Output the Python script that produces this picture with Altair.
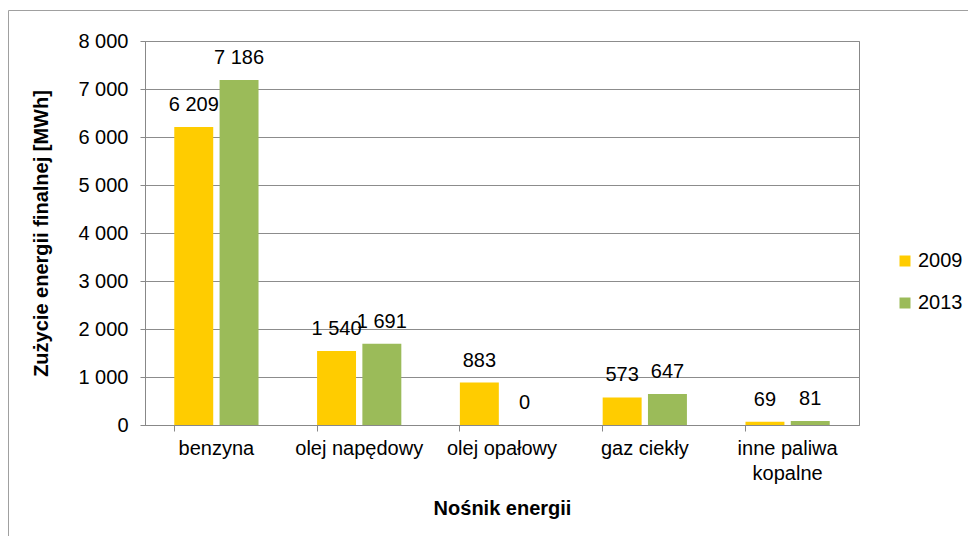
import altair as alt
import pandas as pd

categories = ["benzyna", "olej napędowy", "olej opałowy", "gaz ciekły", "inne paliwa kopalne"]
years = ["2009", "2013"]
values_2009 = [6209, 1540, 883, 573, 69]
values_2013 = [7186, 1691, 0, 647, 81]
y_ticks = [0, 1000, 2000, 3000, 4000, 5000, 6000, 7000, 8000]
colors = ["#FFCC00", "#9BBB59"]

rows = []
for c, a, b in zip(categories, values_2009, values_2013):
    rows.append({"cat": c, "year": "2009", "value": a})
    rows.append({"cat": c, "year": "2013", "value": b})
df = pd.DataFrame(rows)

FONT = "Liberation Sans"

x_enc = alt.X("cat:N", sort=categories, title="Nośnik energii",
              scale=alt.Scale(paddingInner=0.41, paddingOuter=0.205),
              axis=alt.Axis(labelAngle=0, bandPosition=0, labelFontSize=20, labelColor="#000000",
                            labelPadding=7, tickSize=6, tickColor="#888888", domainColor="#888888",
                            titleFontSize=20, titleFontWeight="bold", titleColor="#000000",
                            titlePadding=15, labelLineHeight=25,
                            labelExpr="datum.label == 'inne paliwa kopalne' ? ['inne paliwa', 'kopalne'] : datum.label"))
xo_enc = alt.XOffset("year:N", sort=years, scale=alt.Scale(paddingInner=0.14, paddingOuter=0))
y_enc = alt.Y("value:Q", title="Zużycie energii finalnej [MWh]",
              scale=alt.Scale(domain=[0, 8000], nice=False),
              axis=alt.Axis(values=y_ticks, labelFontSize=20, labelColor="#000000",
                            labelExpr="replace(format(datum.value, ','), ',', ' ')",
                            tickSize=5, tickColor="#888888", domainColor="#888888",
                            gridColor="#8C8C8C", labelPadding=12,
                            titleFontSize=20, titleFontWeight="bold", titleColor="#000000",
                            titlePadding=26))

bars = alt.Chart(df).mark_bar().encode(
    x=x_enc, xOffset=xo_enc, y=y_enc,
    color=alt.Color("year:N", sort=years, scale=alt.Scale(domain=years, range=colors),
                    legend=alt.Legend(title=None, orient="none", legendX=750, legendY=210,
                                      symbolType="square", symbolSize=121, symbolStrokeWidth=0,
                                      labelFontSize=20, labelColor="#000000", labelOffset=3,
                                      rowPadding=22, padding=0)),
)

labels = alt.Chart(df).transform_calculate(
    txt="replace(format(datum.value, ','), ',', ' ')"
).mark_text(baseline="bottom", dy=-12, fontSize=20, color="#000000").encode(
    x=alt.X("cat:N", sort=categories), xOffset=alt.XOffset("year:N", sort=years),
    y="value:Q", text="txt:N",
)

border_left = alt.Chart(pd.DataFrame({"a": [0]})).mark_rule(color="#A0A0A0", strokeWidth=1).encode(
    x=alt.value(-136.5), y=alt.value(-30.5), y2=alt.value(600))
border_top = alt.Chart(pd.DataFrame({"a": [0]})).mark_rule(color="#A0A0A0", strokeWidth=1).encode(
    x=alt.value(-136.5), x2=alt.value(900), y=alt.value(-30.5))

chart = alt.layer(bars, labels, border_left, border_top).properties(
    width=714, height=384,
    autosize=alt.AutoSizeParams(type="none"),
    padding={"left": 137, "top": 33, "right": 109, "bottom": 111},
).configure(font=FONT).configure_view(stroke="#888888", strokeWidth=1)

chart.save("out.html", embed_options={"renderer": "svg", "actions": False})
